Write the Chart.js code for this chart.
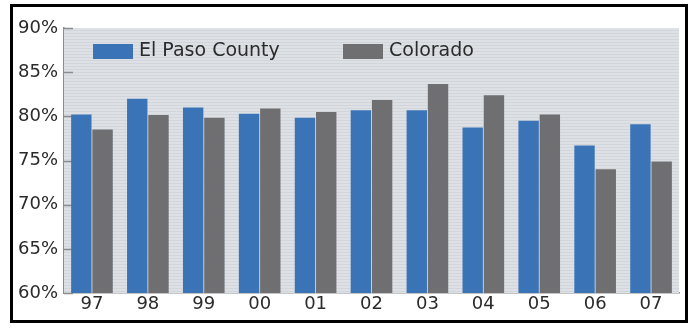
<!DOCTYPE html>
<html>
<head>
<meta charset="utf-8">
<script src="https://cdn.jsdelivr.net/npm/chart.js@4/dist/chart.umd.min.js"></script>
<style>
  html, body { margin: 0; padding: 0; background: #fff; }
  #wrap { position: relative; width: 696px; height: 328px; }
  #frame {
    position: absolute; left: 10px; top: 4px; width: 672px; height: 313px;
    border: 3px solid #000; pointer-events: none;
  }
</style>
</head>
<body>
<div id="wrap">
  <canvas id="chart" width="696" height="328"></canvas>
  <div id="frame"></div>
</div>
<script>
const years = ['97', '98', '99', '00', '01', '02', '03', '04', '05', '06', '07']
const elPaso = [80.2, 82.0, 81.0, 80.3, 79.85, 80.7, 80.7, 78.75, 79.5, 76.7, 79.1]
const colorado = [78.5, 80.15, 79.85, 80.9, 80.5, 81.85, 83.65, 82.4, 80.2, 74.0, 74.9]
const yTicks = [60, 65, 70, 75, 80, 85, 90]

const blue = '#3b74b6'
const gray = '#6f6f71'
const textColor = '#2b2b2b'

// light panel behind the bars + short inward ticks on the y axis
const panelPlugin = {
  id: 'panel',
  beforeDatasetsDraw(chart) {
    const { ctx, chartArea } = chart
    ctx.save()
    ctx.fillStyle = '#dde0e4'
    ctx.fillRect(chartArea.left, chartArea.top, chartArea.right - chartArea.left, chartArea.bottom - chartArea.top)
    ctx.strokeStyle = 'rgba(180,185,190,0.25)'
    ctx.lineWidth = 1
    for (let y = chartArea.top + 2; y < chartArea.bottom; y += 3) {
      ctx.beginPath()
      ctx.moveTo(chartArea.left, y + 0.5)
      ctx.lineTo(chartArea.right, y + 0.5)
      ctx.stroke()
    }
    const yScale = chart.scales.y
    ctx.strokeStyle = '#8a8c8e'
    ctx.lineWidth = 1.5
    yTicks.forEach(v => {
      const py = Math.round(yScale.getPixelForValue(v)) + 0.5
      ctx.beginPath()
      ctx.moveTo(chartArea.left, py)
      ctx.lineTo(chartArea.left + 9, py)
      ctx.stroke()
    })
    ctx.restore()
  },
}

// legend drawn inside the plot area
const innerLegend = {
  id: 'innerLegend',
  afterDatasetsDraw(chart) {
    const { ctx } = chart
    const spots = [93, 343]
    ctx.save()
    ctx.font = '19px "DejaVu Sans"'
    ctx.textBaseline = 'middle'
    ctx.fillStyle = textColor
    chart.data.datasets.forEach((ds, i) => {
      const x = spots[i]
      ctx.fillStyle = ds.backgroundColor
      ctx.fillRect(x, 44, 40, 15)
      ctx.fillStyle = textColor
      ctx.fillText(ds.label, x + 46, 51)
    })
    ctx.restore()
  },
}

new Chart(document.getElementById('chart').getContext('2d'), {
  type: 'bar',
  data: {
    labels: years,
    datasets: [
      {
        label: 'El Paso County',
        backgroundColor: blue,
        data: elPaso,
        categoryPercentage: 0.76,
        barPercentage: 0.96,
      },
      {
        label: 'Colorado',
        backgroundColor: gray,
        data: colorado,
        categoryPercentage: 0.76,
        barPercentage: 0.96,
      },
    ],
  },
  options: {
    responsive: false,
    animation: false,
    layout: { padding: { top: 28, right: 17, left: 0, bottom: 0 } },
    plugins: {
      legend: { display: false },
      tooltip: { enabled: false },
    },
    scales: {
      x: {
        grid: { display: false, drawTicks: false },
        border: { display: true, color: '#8a8c8e', width: 1.5 },
        ticks: { color: textColor, font: { family: 'DejaVu Sans', size: 18 }, padding: 1 },
        afterFit(scale) { scale.height = 35 },
      },
      y: {
        min: 60,
        max: 90,
        afterBuildTicks(scale) { scale.ticks = yTicks.map(v => ({ value: v })) },
        grid: { display: false, drawTicks: false },
        border: { display: true, color: '#8a8c8e', width: 1.5 },
        ticks: {
          color: textColor,
          font: { family: 'DejaVu Sans', size: 18 },
          padding: 6,
          callback: v => v + '%',
        },
        afterFit(scale) { scale.width = 64 },
      },
    },
  },
  plugins: [panelPlugin, innerLegend],
})
</script>
</body>
</html>
